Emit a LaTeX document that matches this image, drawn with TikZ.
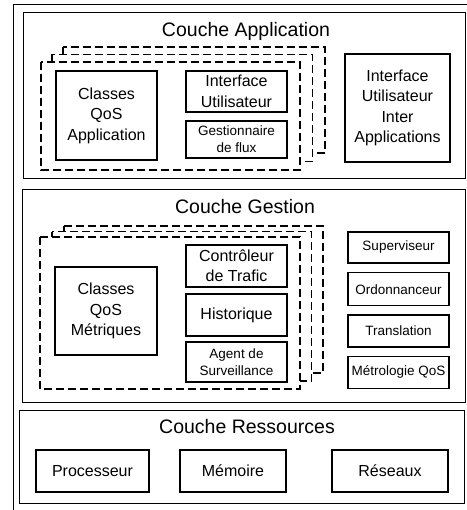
\documentclass[tikz,border=0pt]{standalone}
\usepackage{fontspec}
\setmainfont{Liberation Sans}
\usetikzlibrary{positioning}

\tikzset{
  layerbox/.style={draw, line width=1pt, fill=white, inner sep=0pt},
  modbox/.style={draw, line width=1.3pt, fill=white, align=center, inner sep=0pt,
    font=\fontsize{16}{20.5}\selectfont},
  smallbox/.style={modbox, font=\fontsize{13.5}{17}\selectfont},
  stackbox/.style={draw, fill=white, dash pattern=on 8pt off 4pt, line width=1.3pt},
  layertitle/.style={font=\fontsize{19.5}{22}\selectfont}
}

\begin{document}
\begin{tikzpicture}[x=1pt, y=-1pt]
    \useasboundingbox (0,0) rectangle (466,510);
    % Outer frame
    \draw[line width=1pt] (13,515) |- (470,5);

    % Couche Application
    \node[layerbox, minimum width=442, minimum height=166] (applayer) at (244,96) {};
    \node[layertitle] (apptitle) at (246,31) {Couche Application};
    \foreach \i in {2,1,0}
        \draw[stackbox] (41+11*\i, 62-7.5*\i) rectangle (300+12.5*\i, 170-8.5*\i);
    \node[modbox, minimum width=101, minimum height=89] (clsapp) at (106.5,115.5) {Classes\\QoS\\Application};
    \node[modbox, minimum width=101, minimum height=41] (iu) at (236.5,91.5) {Interface\\Utilisateur};
    \node[smallbox, minimum width=101, minimum height=37] (gflux) at (236.5,139.5) {Gestionnaire\\de flux};
    \node[modbox, minimum width=105, minimum height=108] (iuapp) at (397.5,108) {Interface\\Utilisateur\\Inter\\Applications};

    % Couche Gestion
    \node[layerbox, minimum width=443, minimum height=212] (gestlayer) at (243.5,296) {};
    \node[layertitle] (gesttitle) at (245,207) {Couche Gestion};
    \foreach \i in {2,1,0}
        \draw[stackbox] (40+12*\i, 237-5.5*\i) rectangle (300+11.5*\i, 389-8*\i);
    \node[modbox, minimum width=102, minimum height=88] (clsmet) at (106,311) {Classes\\QoS\\Métriques};
    \node[modbox, minimum width=101, minimum height=42] (ctrl) at (236.5,266) {Contrôleur\\de Trafic};
    \node[modbox, minimum width=101, minimum height=42] (histo) at (236.5,315) {Historique};
    \node[smallbox, minimum width=101, minimum height=40] (agent) at (236.5,362) {Agent de\\Surveillance};
    \node[smallbox, minimum width=101, minimum height=31] (superv) at (398.5,247.5) {Superviseur};
    \node[smallbox, minimum width=101, minimum height=33, below=8.5pt of superv] (ordo) {Ordonnanceur};
    \node[smallbox, minimum width=101, minimum height=32, below=8pt of ordo] (transl) {Translation};
    \node[smallbox, minimum width=101, minimum height=32, below=8pt of transl] (metro) {Métrologie QoS};

    % Couche Ressources
    \node[layerbox, minimum width=445, minimum height=93] (reslayer) at (241.5,456.5) {};
    \node[layertitle] (restitle) at (247,427) {Couche Ressources};
    \node[modbox, minimum width=113, minimum height=42] (proc) at (92.5,471) {Processeur};
    \node[modbox, minimum width=106, minimum height=42] (mem) at (233,471) {Mémoire};
    \node[modbox, minimum width=116, minimum height=42] (net) at (390,471) {Réseaux};
\end{tikzpicture}
\end{document}
